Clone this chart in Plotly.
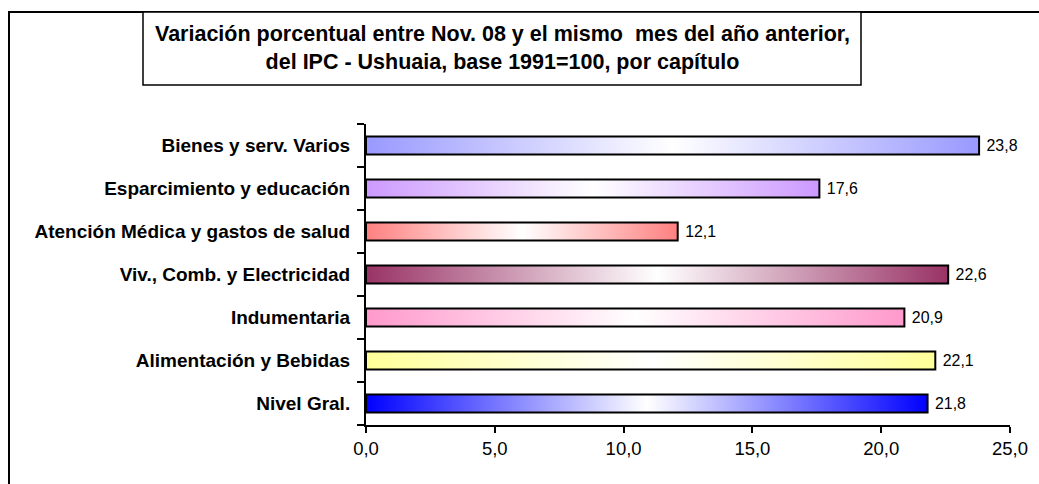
import plotly.graph_objects as go

categories = [
    "Nivel Gral.",
    "Alimentación y Bebidas",
    "Indumentaria",
    "Viv., Comb. y Electricidad",
    "Atención Médica y gastos de salud",
    "Esparcimiento y educación",
    "Bienes y serv. Varios",
]
values = [21.8, 22.1, 20.9, 22.6, 12.1, 17.6, 23.8]
edge_colors = ["#0000FF", "#FFFF99", "#FF99CC", "#993366", "#FF8080", "#CC99FF", "#9999FF"]
title_lines = [
    "Variación porcentual entre Nov. 08 y el mismo  mes del año anterior,",
    "del IPC - Ushuaia, base 1991=100, por capítulo",
]
x_ticks = [0, 5, 10, 15, 20, 25]

W, H = 1039, 484
L, R, T, B = 366, 1010, 124, 425
BAR_W = 0.42


def px_x(p):
    return (p - L) / (R - L)


def px_y(p):
    return (B - p) / (B - T)


fig = go.Figure()

# gradient fills (numeric y axis underneath)
for i, (v, c) in enumerate(zip(values, edge_colors)):
    h = BAR_W / 2
    fig.add_trace(go.Scatter(
        x=[0, v, v, 0, 0],
        y=[i - h, i - h, i + h, i + h, i - h],
        mode="lines",
        line=dict(width=0, color=c),
        fill="toself",
        fillgradient=dict(
            type="horizontal",
            start=0,
            stop=v,
            colorscale=[[0, c], [0.5, "#FFFFFF"], [1, c]],
        ),
        hoverinfo="skip",
        showlegend=False,
        xaxis="x",
        yaxis="y",
    ))

# bar outlines + value labels on category axis
fig.add_trace(go.Bar(
    x=values,
    y=categories,
    orientation="h",
    width=BAR_W,
    marker=dict(color="rgba(0,0,0,0)", line=dict(color="black", width=2)),
    text=values,
    texttemplate="\u00a0%{x:.1f}",
    textposition="outside",
    textfont=dict(family="Liberation Sans, Arial", size=18.5, color="black"),
    cliponaxis=False,
    showlegend=False,
    xaxis="x",
    yaxis="y2",
))

fig.update_layout(
    width=W,
    height=H,
    margin=dict(l=L, r=W - R, t=T, b=H - B, pad=0),
    paper_bgcolor="white",
    plot_bgcolor="white",
    separators=",.",
    font=dict(family="Liberation Sans, Arial", color="black"),
    xaxis=dict(
        range=[0, 25],
        tickvals=x_ticks,
        tickformat=".1f",
        showgrid=False,
        zeroline=False,
        showline=True,
        linecolor="black",
        linewidth=2,
        ticks="outside",
        ticklen=6,
        tickwidth=2,
        tickcolor="black",
        tickfont=dict(size=18.5),
        anchor="y",
    ),
    yaxis=dict(
        range=[-0.5, 6.5],
        showgrid=False,
        zeroline=False,
        showline=False,
        showticklabels=False,
        ticks="",
    ),
    yaxis2=dict(
        type="category",
        categoryorder="array",
        categoryarray=categories,
        range=[-0.5, 6.5],
        overlaying="y",
        side="left",
        anchor="x",
        showgrid=False,
        zeroline=False,
        showline=True,
        linecolor="black",
        linewidth=2,
        ticks="outside",
        tickson="boundaries",
        ticklen=7,
        tickwidth=2,
        tickcolor="black",
        ticklabelstandoff=10,
        tickfont=dict(size=19, family="Liberation Sans, Arial", weight="bold"),
    ),
    bargap=0.58,
)

# outer chart frame
fig.add_shape(type="rect", xref="paper", yref="paper",
              x0=px_x(9), x1=px_x(W + 10), y0=px_y(H + 10), y1=px_y(12),
              line=dict(color="black", width=2), fillcolor="rgba(0,0,0,0)", layer="below")
# title box
fig.add_shape(type="rect", xref="paper", yref="paper",
              x0=px_x(143), x1=px_x(861), y0=px_y(85), y1=px_y(12),
              line=dict(color="black", width=1.5), fillcolor="white", layer="above")
fig.add_annotation(
    xref="paper", yref="paper",
    x=px_x(502), y=px_y(48.5),
    xanchor="center", yanchor="middle",
    text="<b>" + "<br>".join(title_lines) + "</b>",
    showarrow=False,
    align="center",
    font=dict(family="Liberation Sans, Arial", size=21.5, color="black"),
)

fig.write_html("out.html", config={"displayModeBar": False},
               post_script="document.body.style.margin='0';")
